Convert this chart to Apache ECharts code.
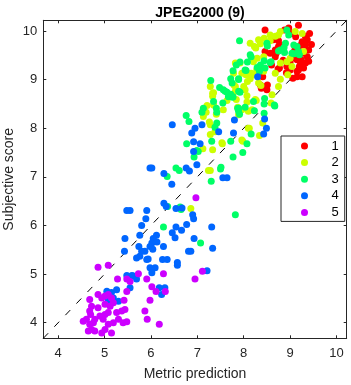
<!DOCTYPE html>
<html>
<head>
<meta charset="utf-8">
<title>JPEG2000 (9)</title>
<script src="https://cdn.jsdelivr.net/npm/echarts@6/dist/echarts.min.js"></script>
<style>
  html, body { margin: 0; padding: 0; background: #fff; }
  #main { width: 351px; height: 385px; }
</style>
</head>
<body>
<div id="main"></div>
<script type="text/javascript">
// axis range and tick labels
var axisMin = 3.68;
var axisMax = 10.22;
var tickVals = [4, 5, 6, 7, 8, 9, 10];
var groupNames = ['1', '2', '3', '4', '5'];
var groupColors = ['#ff0000', '#ccff00', '#00ff66', '#0066ff', '#cc00ff'];

// [metric prediction, subjective score] per group
var g1 = [
  [9.18,10.12],[8.97,10.06],[8.88,10.02],[9.42,9.95],[9.33,9.89],[9.37,9.82],[9.26,9.78],[9.33,9.71],
  [9.40,9.61],[9.29,9.54],[9.37,9.47],[9.24,9.41],[9.15,9.41],[9.33,9.34],[9.20,9.27],[9.29,9.24],
  [9.15,9.17],[9.00,9.20],[9.15,9.06],[9.26,9.06],[8.57,9.54],[8.68,9.61],[8.75,9.68],[8.75,9.80],
  [8.68,9.47],[8.46,9.58],[8.74,9.22],[8.38,9.20],[8.41,9.06],[8.36,8.89],[8.38,8.82],[8.50,8.79],
  [8.46,10.02],[8.64,9.82],[8.70,9.54],[8.93,9.27],[8.77,9.24],[8.51,8.89],[9.22,9.30],[9.18,9.20],
  [9.05,9.95],[9.12,9.88],[9.22,9.70],[9.08,9.45],[9.00,9.36],[8.85,9.40],[8.92,9.14],[9.06,9.03],
  [8.60,9.30],[8.82,9.70],[9.46,9.72],[9.40,9.38],[9.10,9.60]
];
var g2 = [
  [8.14,9.75],[8.32,9.82],[8.44,9.85],[8.57,9.92],[8.68,9.89],[8.79,9.99],[9.11,9.99],[9.26,9.95],
  [8.23,9.68],[8.29,9.44],[8.43,9.47],[8.21,9.10],[8.79,9.34],[8.93,9.37],[9.00,9.44],[7.96,9.13],
  [8.05,9.10],[7.78,9.13],[7.82,8.76],[8.08,8.96],[8.03,8.79],[8.32,8.93],[8.37,8.88],[8.61,8.69],
  [8.59,8.52],[8.07,8.54],[7.89,8.28],[7.96,8.38],[8.18,8.38],[7.56,8.38],[7.28,8.86],[7.38,7.93],
  [8.12,8.00],[7.28,7.87],[7.53,7.70],[8.14,9.02],[8.21,9.37],[8.30,9.17],[8.43,9.17],[8.00,8.86],
  [7.79,8.89],[7.33,8.72],[7.33,8.66],[7.84,8.59],[7.64,8.57],[8.27,8.57],[7.21,8.47],[7.87,8.43],
  [8.10,8.35],[7.13,8.24],[7.41,8.29],[8.41,8.11],[8.34,7.85],[7.12,7.58],[7.33,7.56],[7.96,7.76],
  [7.54,7.68],[7.98,7.73],[7.28,7.13],[6.86,6.35],[7.24,7.13],[8.57,9.80],[8.75,9.92],[8.36,9.74],
  [8.26,9.65],[9.04,9.27],[8.28,9.20],[8.16,9.13],[7.82,9.34],[7.92,9.34],[7.82,8.86],[8.68,9.13],
  [8.95,9.10],[9.29,9.58],[8.79,9.01],[8.75,8.86],[8.07,8.67],[8.25,8.59],[7.35,8.48],[7.26,8.13],
  [7.35,8.73],[7.19,8.33],[7.28,8.07],[8.10,8.00]
];
var g3 = [
  [6.77,7.68],[6.35,7.01],[6.54,7.18],[6.61,7.13],[6.36,6.39],[6.63,6.38],[6.65,6.33],[6.27,5.97],
  [6.76,8.26],[6.82,8.14],[7.02,7.52],[6.93,7.41],[7.07,5.64],[7.30,6.91],[7.82,6.22],[7.31,7.73],
  [7.72,7.73],[8.07,7.68],[7.98,7.50],[7.77,7.41],[7.51,7.20],[7.50,7.16],[6.99,7.54],
  [8.16,9.47],[7.92,9.36],[8.08,9.36],[7.77,9.18],[7.84,9.30],[7.72,9.02],[7.89,9.02],[8.29,9.25],
  [8.36,9.30],[8.44,9.39],[7.29,8.98],[7.48,8.84],[7.56,8.79],[7.64,8.74],[7.72,8.70],[7.67,8.65],
  [7.77,8.65],[7.92,8.74],[7.55,8.52],[7.41,8.41],[7.13,8.41],[7.87,8.41],[7.91,8.29],[7.42,8.11],
  [7.38,8.02],[8.21,8.55],[8.23,8.36],[8.44,8.50],[8.16,7.88],[7.91,9.80],[8.93,10.02],[8.97,9.92],
  [9.08,9.71],[9.15,9.68],[8.90,9.75],[8.50,9.75],[8.51,9.69],[8.14,9.51],[8.75,9.59],[9.18,9.58],
  [8.87,9.66],[8.59,9.37],[8.46,9.24],[8.03,9.20],[7.75,8.93],[7.35,8.55],[8.45,8.61],[8.66,8.48],
  [7.10,8.33],[7.42,8.33],[8.03,8.43],[8.44,8.31],[7.89,8.35],[8.79,9.61],[8.88,9.56],[9.04,9.54],
  [9.09,9.53],[9.20,9.51],[8.57,9.35],[8.05,9.19],[8.34,9.17],[7.60,8.76],[7.76,8.64],[7.89,8.76],
  [7.89,8.41],[8.67,8.46],[7.89,9.00]
];
var g4 = [
  [6.46,8.07],[6.88,7.90],[7.10,8.07],[7.46,7.93],[7.80,8.17],[8.45,8.19],[8.49,8.00],[8.43,7.88],
  [7.78,7.90],[6.95,8.00],[6.92,7.72],[7.06,7.68],[6.92,7.52],[6.99,7.25],[6.76,7.18],[6.83,7.12],
  [7.55,6.98],[7.64,6.98],[6.45,6.85],[5.98,7.18],[6.02,7.18],[6.28,7.07],[8.30,9.06],
  [6.28,6.46],[6.33,6.39],[6.54,6.35],[6.67,6.36],[6.90,6.22],[6.92,6.14],[5.48,6.31],[5.55,6.31],
  [5.91,6.31],[5.89,6.14],[5.80,6.00],[6.77,6.02],[6.54,5.97],[6.66,5.90],[6.46,5.85],[6.52,5.75],
  [5.44,5.73],[5.76,5.80],[6.12,5.80],[6.05,5.73],[6.02,5.64],[5.74,5.57],[5.98,5.57],[6.27,5.57],
  [6.93,5.73],[7.31,5.97],[7.33,5.53],[6.86,5.47],[6.04,5.51],[5.87,5.47],[5.94,5.31],[6.25,5.30],
  [6.35,5.30],[6.57,5.24],[6.57,5.18],[5.98,5.13],[6.09,5.13],[6.02,5.03],[7.21,5.07],[6.18,4.72],
  [5.43,5.47],[5.80,5.47],[5.69,5.33],[5.91,5.30],[6.13,5.66],[5.76,5.37],[6.81,5.47],[5.62,4.96],
  [5.48,4.97],[5.59,4.97],[5.69,4.90],[5.26,4.68],[5.05,4.65],[5.08,4.48],[5.19,4.51],[5.30,4.44],
  [5.55,4.72],[6.23,4.58],[6.30,4.72],[5.15,4.62],[5.12,4.41]
];
var g5 = [
  [4.68,4.48],[4.86,4.58],[4.94,4.51],[5.01,4.55],[5.08,4.58],[5.15,4.51],[5.19,4.41],[5.12,4.34],
  [5.01,4.38],[4.86,4.31],[4.72,4.34],[4.68,4.24],[4.70,4.17],[4.61,4.07],[4.54,4.03],[4.68,3.97],
  [4.76,4.00],[4.72,3.86],[4.79,4.07],[4.90,4.14],[5.01,4.17],[5.08,4.21],[4.97,4.07],[5.08,3.97],
  [5.19,4.00],[5.30,4.07],[5.26,4.21],[5.37,4.24],[5.44,4.27],[5.40,4.00],[5.01,3.86],[4.94,3.79],
  [5.15,3.79],[4.65,3.83],[4.79,3.83],[5.28,4.90],[5.48,4.90],[5.55,4.85],[5.73,5.01],[5.91,4.90],
  [6.02,4.74],[6.11,4.64],[6.27,5.01],[6.31,4.64],[5.98,4.46],[5.87,4.24],[5.92,4.07],[6.18,3.97],
  [5.48,4.02],[5.48,4.64],[5.42,4.46],[4.86,5.14],[5.08,5.18],[6.97,6.57],[7.11,5.06],[6.95,4.90]
];
var groups = [g1, g2, g3, g4, g5];

var font = '"Liberation Sans", Arial, Helvetica, sans-serif';
var ink = '#262626';

var myChart = echarts.init(document.getElementById('main'), null, { renderer: 'canvas' });

function makeAxis(pos, withLabels, name) {
  return {
    type: 'value',
    position: pos,
    min: axisMin,
    max: axisMax,
    name: name,
    nameLocation: 'middle',
    nameGap: pos === 'bottom' ? 29 : 27,
    nameMoveOverlap: false,
    nameTextStyle: { color: ink, fontSize: 14, fontFamily: font },
    axisLine: { show: true, onZero: false, lineStyle: { color: ink, width: 1 } },
    axisTick: { show: true, inside: true, length: 3, customValues: tickVals, lineStyle: { color: ink } },
    axisLabel: {
      show: withLabels, customValues: tickVals, color: ink, fontSize: 13, fontFamily: font,
      margin: pos === 'bottom' ? 9 : 6
    },
    splitLine: { show: false }
  };
}

var series = [{
  type: 'line',
  data: [[axisMin, axisMin], [axisMax, axisMax]],
  symbol: 'none',
  silent: true,
  z: 1,
  lineStyle: { color: '#000', width: 1, type: [7, 9] }
}];
for (var i = 0; i < groups.length; i++) {
  series.push({
    name: groupNames[i],
    type: 'scatter',
    data: groups[i],
    symbol: 'circle',
    symbolSize: 7,
    z: 2,
    itemStyle: { color: groupColors[i], opacity: 1 }
  });
}

var option = {
  animation: false,
  backgroundColor: '#fff',
  title: {
    text: 'JPEG2000 (9)',
    left: 195,
    top: 1,
    textAlign: 'center',
    textStyle: { color: '#000', fontSize: 14, fontWeight: 'bold', fontFamily: font }
  },
  legend: {
    data: groupNames,
    orient: 'vertical',
    left: 281,
    top: 136,
    padding: [3, 6, 2, 20],
    itemWidth: 8,
    itemHeight: 7,
    itemGap: 2.6,
    borderColor: ink,
    borderWidth: 1,
    backgroundColor: '#fff',
    formatter: '{t|{name}}',
    textStyle: {
      color: '#000', fontSize: 13, lineHeight: 14, fontFamily: font,
      rich: { t: { fontSize: 13, lineHeight: 14, fontFamily: font, color: '#000', padding: [0, 0, 0, 18] } }
    }
  },
  grid: { left: 43.3, right: 4.3, top: 20.3, bottom: 46.7, outerBoundsMode: 'none', containLabel: false },
  xAxis: [makeAxis('bottom', true, 'Metric prediction'), makeAxis('top', false, '')],
  yAxis: [makeAxis('left', true, 'Subjective score'), makeAxis('right', false, '')],
  series: series
};

myChart.setOption(option);
</script>
</body>
</html>
